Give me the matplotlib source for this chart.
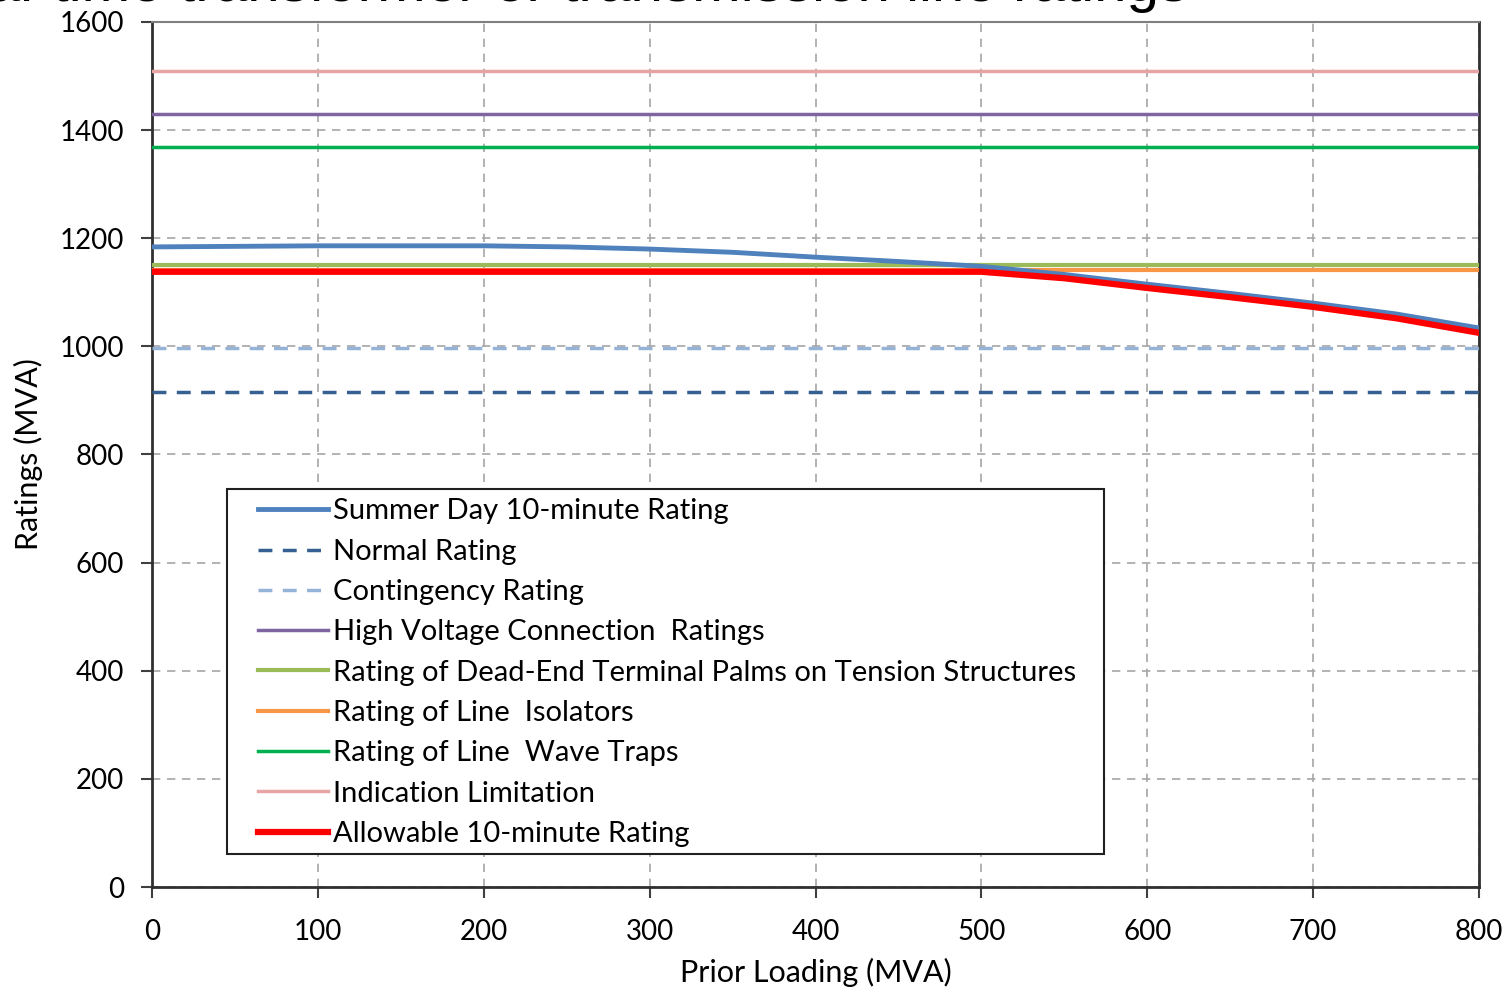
import matplotlib
matplotlib.use("Agg")
import matplotlib.pyplot as plt
from matplotlib.patches import Rectangle

# Prior loading (MVA) and corresponding ratings (MVA)
prior_loading = [0, 100, 200, 250, 300, 350, 400, 450, 500, 550, 600, 650, 700, 750, 800]
summer_day_10min = [1184, 1186, 1186, 1184, 1180, 1174, 1165, 1157, 1148, 1133, 1115, 1098, 1080, 1060, 1034]
allowable_10min = [1138, 1138, 1138, 1138, 1138, 1138, 1138, 1138, 1138, 1126, 1108, 1091, 1073, 1052, 1025]

# Constant limits (MVA)
normal_rating = 916
contingency_rating = 997
high_voltage_connection = 1430
dead_end_terminal_palms = 1150
line_isolators = 1141
line_wave_traps = 1369
indication_limitation = 1510

x_ticks = [0, 100, 200, 300, 400, 500, 600, 700, 800]
y_ticks = [0, 200, 400, 600, 800, 1000, 1200, 1400, 1600]

plt.rcParams['font.family'] = ['Lato', 'DejaVu Sans']

W, H = 1506, 996
fig = plt.figure(figsize=(W / 100, H / 100), dpi=100)
ax_l, ax_r, ax_t, ax_b = 152, 1479, 22, 887
ax = fig.add_axes([ax_l / W, 1 - ax_b / H, (ax_r - ax_l) / W, (ax_b - ax_t) / H])


def to_axes(px, py):
    """Pixel position on the canvas -> axes fraction."""
    return (px - ax_l) / (ax_r - ax_l), (ax_b - py) / (ax_b - ax_t)


x_span = [prior_loading[0], prior_loading[-1]]

ax.plot(prior_loading, summer_day_10min, color='#4F81BD', lw=3.5, label='Summer Day 10-minute Rating', zorder=5)
ax.plot(x_span, [normal_rating] * 2, color='#376092', lw=2.5, ls=(0, (4, 3)), label='Normal Rating', zorder=4)
ax.plot(x_span, [contingency_rating] * 2, color='#95B3D7', lw=2.5, ls=(0, (4, 3)), label='Contingency Rating', zorder=4)
ax.plot(x_span, [high_voltage_connection] * 2, color='#7F64A2', lw=2.5, label='High Voltage Connection  Ratings', zorder=4)
ax.plot(x_span, [dead_end_terminal_palms] * 2, color='#9BBB59', lw=3, label='Rating of Dead-End Terminal Palms on Tension Structures', zorder=4)
ax.plot(x_span, [line_isolators] * 2, color='#F79646', lw=3, label='Rating of Line  Isolators', zorder=4)
ax.plot(x_span, [line_wave_traps] * 2, color='#00B050', lw=2.5, label='Rating of Line  Wave Traps', zorder=4)
ax.plot(x_span, [indication_limitation] * 2, color='#E6A5A4', lw=2.5, label='Indication Limitation', zorder=4)
ax.plot(prior_loading, allowable_10min, color='#FF0000', lw=4.5, label='Allowable 10-minute Rating', zorder=6)

ax.set_xlim(0, 800)
ax.set_ylim(0, 1600)
ax.set_xticks(x_ticks)
ax.set_yticks(y_ticks)
ax.tick_params(axis='both', labelsize=20, direction='out', length=8, width=1.5, color='#404040')
ax.tick_params(axis='x', pad=15)
ax.tick_params(axis='y', pad=12)

ax.grid(True, color='#A6A6A6', ls=(0, (5, 4)), lw=1.2)
ax.set_axisbelow(True)
for side in ['left', 'bottom', 'right']:
    ax.spines[side].set_color('#303030')
    ax.spines[side].set_linewidth(2)
ax.spines['top'].set_color('#808080')
ax.spines['top'].set_linewidth(1.5)

ax.set_xlabel('Prior Loading (MVA)', fontsize=22, labelpad=9)
ax.set_ylabel('Ratings (MVA)', fontsize=22, labelpad=12)

# Legend frame drawn as a separate box so the inner padding can be wider at the sides
(bx0, by0), (bx1, by1) = to_axes(227, 854), to_axes(1104, 489)
frame = Rectangle((bx0, by0), bx1 - bx0, by1 - by0, transform=ax.transAxes,
                  facecolor='white', edgecolor='#202020', lw=1.5, zorder=9)
ax.add_patch(frame)

leg = ax.legend(loc='upper left', bbox_to_anchor=to_axes(258, 498.5),
                fontsize=21, handlelength=2.4, handletextpad=0.17, labelspacing=0.49,
                borderpad=0, borderaxespad=0, frameon=False)
leg.set_zorder(10)

fig.text(1188 / W, 1 - 1 / H, 'Real-time transformer or transmission line ratings',
         ha='right', va='baseline', fontsize=42, family='Liberation Sans')

fig.savefig('out.png', dpi=100)
